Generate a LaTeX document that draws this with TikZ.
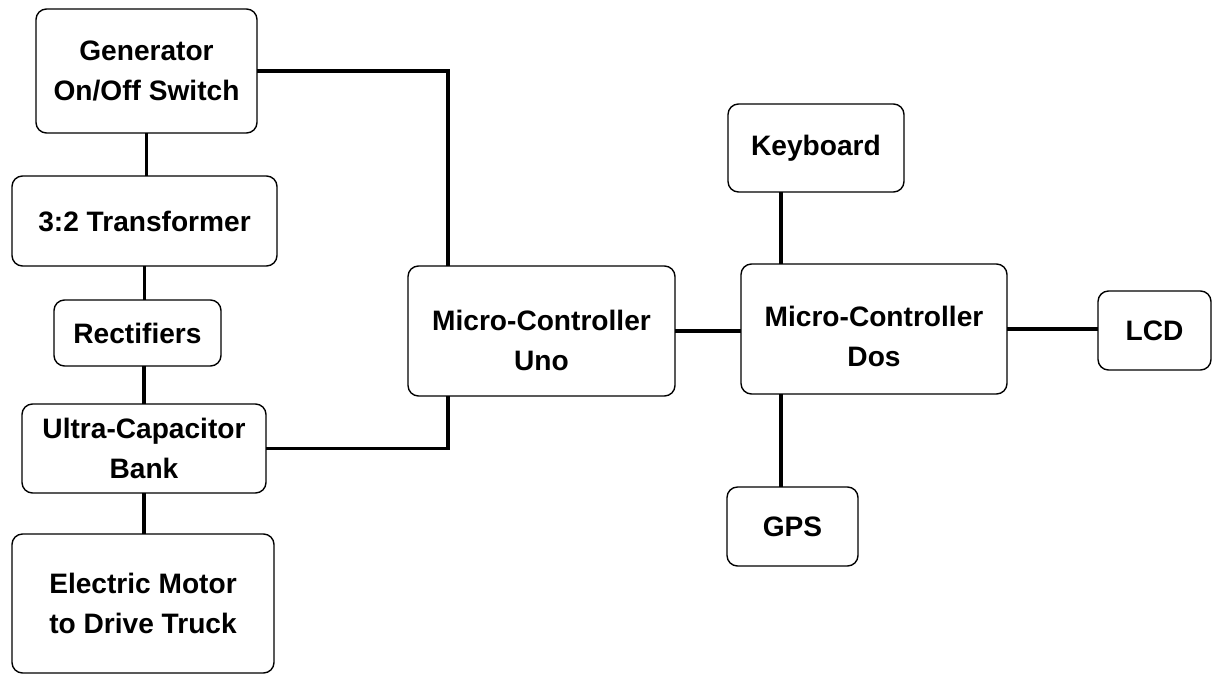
\documentclass[tikz,border=0pt]{standalone}
\usepackage{fontspec}
\setmainfont{Liberation Sans}
\usepackage{tikz}
\usetikzlibrary{positioning}

\begin{document}
\begin{tikzpicture}[x=0.02cm,y=-0.02cm,
                    blk/.style 2 args={draw,rounded corners=6pt,line width=0.8pt,align=center,
                      inner sep=0pt,outer sep=0pt,minimum width=#1*0.02cm,minimum height=#2*0.02cm,
                      font=\fontsize{16}{22.8}\selectfont\bfseries},
                    wire/.style={line width=1.8pt}]
  \useasboundingbox (0,0) rectangle (1212,675);
  \node[blk={221}{124}] (gen) at (146.5,71) {Generator\\On/Off Switch};
  \node[blk={265}{90}] (trans) at (144.5,221) {3:2 Transformer};
  \node[blk={167}{66}] (rect) at (137.5,333) {Rectifiers};
  \node[blk={244}{89}] (ucap) at (144,448.5) {Ultra-Capacitor\\Bank};
  \node[blk={262}{139}] (motor) at (143,603.5) {Electric Motor\\to Drive Truck};
  \node[blk={267}{130}] (uno) at (541.5,331) {\rule{0pt}{22pt}Micro-Controller\\Uno};
  \node[blk={176}{88}] (kbd) at (816,148) {Keyboard};
  \node[blk={266}{130}] (dos) at (874,329) {\rule{0pt}{20pt}Micro-Controller\\Dos};
  \node[blk={113}{79}] (lcd) at (1154.5,330.5) {LCD};
  \node[blk={131}{79}] (gps) at (792.5,526.5) {GPS};
  \coordinate (tapA) at (448,0);
  \coordinate (tapB) at (781,0);
  % power chain
  \draw[wire] (gen.south) -- (gen.south |- trans.north);
  \draw[wire] (trans.south) -- (trans.south |- rect.north);
  \draw[wire] (ucap.north |- rect.south) -- (ucap.north);
  \draw[wire] (ucap.south) -- (ucap.south |- motor.north);
  % to the controllers
  \draw[wire] (gen.east) -| (tapA |- uno.north);
  \draw[wire] (ucap.east) -| (tapA |- uno.south);
  \draw[wire] (uno.east) -- (uno.east -| dos.west);
  \draw[wire] (tapB |- kbd.south) -- (tapB |- dos.north);
  \draw[wire] (tapB |- dos.south) -- (tapB |- gps.north);
  \draw[wire] (dos.east) -- (dos.east -| lcd.west);
\end{tikzpicture}
\end{document}
